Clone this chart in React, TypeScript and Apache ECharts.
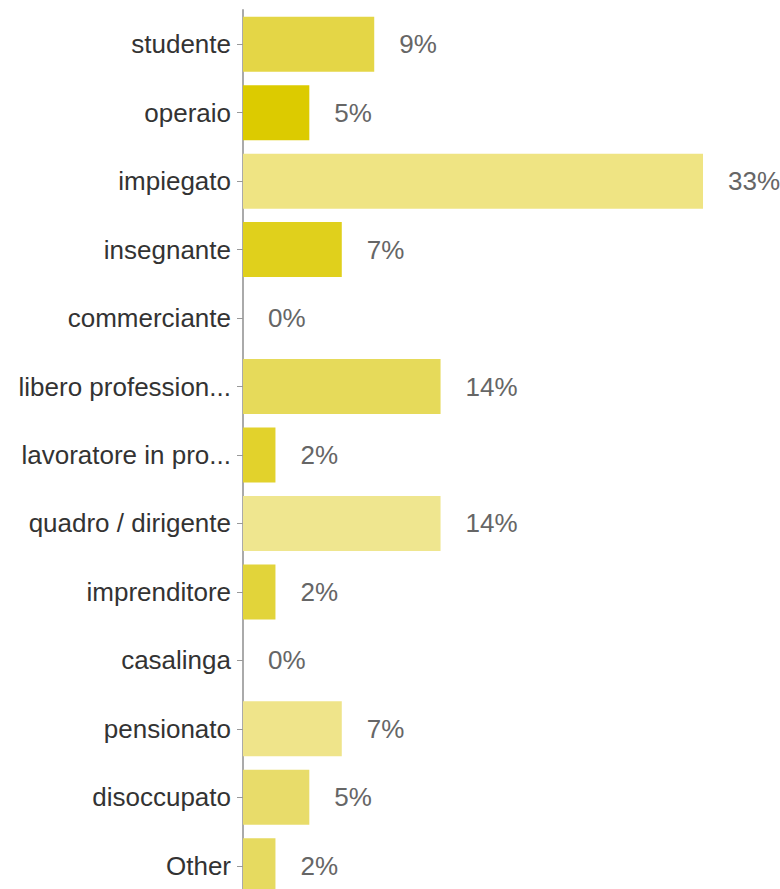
import React, { useEffect, useRef } from "react";
import * as echarts from "echarts";

const categories = [
  "studente",
  "operaio",
  "impiegato",
  "insegnante",
  "commerciante",
  "libero profession...",
  "lavoratore in pro...",
  "quadro / dirigente",
  "imprenditore",
  "casalinga",
  "pensionato",
  "disoccupato",
  "Other",
];

// percentages (labels show rounded values)
const values = [9.3, 4.7, 32.6, 7.0, 0, 14.0, 2.3, 14.0, 2.3, 0, 7.0, 4.7, 2.3];

const barColors = [
  "#e4d646",
  "#dccb00",
  "#efe483",
  "#e0d01c",
  "#e4d646",
  "#e6da5a",
  "#e2d22c",
  "#efe68f",
  "#e2d43a",
  "#e4d646",
  "#efe48a",
  "#e8dc6a",
  "#e6da60",
];

export default function App() {
  const ref = useRef<HTMLDivElement>(null);

  useEffect(() => {
    if (!ref.current) return;
    const chart = echarts.init(ref.current, null, { renderer: "svg" });
    chart.setOption({
      animation: false,
      backgroundColor: "#ffffff",
      grid: { left: 243, top: 10, width: 508, height: 890 },
      xAxis: {
        type: "value",
        min: 0,
        max: 36,
        show: false,
      },
      yAxis: {
        type: "category",
        inverse: true,
        data: categories,
        axisLine: { show: true, lineStyle: { color: "#aaaaaa", width: 2 } },
        axisTick: { show: true, length: 6, alignWithLabel: true, lineStyle: { color: "#999999", width: 1 } },
        axisLabel: {
          margin: 12,
          color: "#333333",
          fontSize: 26,
          fontFamily: "Liberation Sans, Arial, sans-serif",
        },
        splitLine: { show: false },
      },
      series: [
        {
          type: "bar",
          barWidth: 55,
          data: values.map((v, i) => ({
            value: v,
            itemStyle: { color: barColors[i] },
          })),
          label: {
            show: true,
            position: "right",
            distance: 25,
            color: "#666666",
            fontSize: 26,
            fontFamily: "Liberation Sans, Arial, sans-serif",
            formatter: (p: any) => Math.round(p.value) + "%",
          },
        },
      ],
    });
    return () => chart.dispose();
  }, []);

  return (
    <div
      style={{
        position: "fixed",
        left: 0,
        top: 0,
        width: 780,
        height: 889,
        overflow: "hidden",
        background: "#fff",
      }}
    >
      <div ref={ref} style={{ width: 780, height: 920 }} />
    </div>
  );
}
